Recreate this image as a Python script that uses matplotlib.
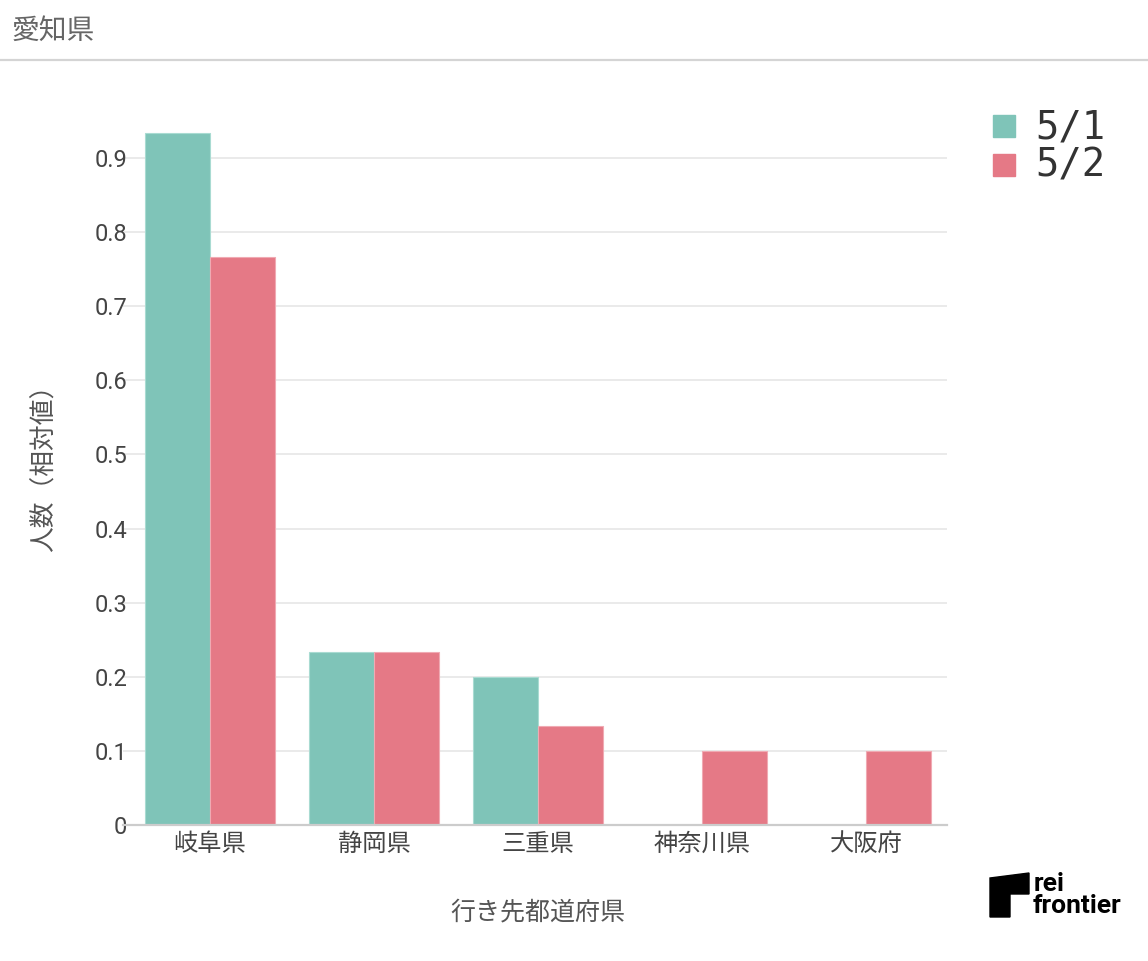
import matplotlib
matplotlib.use("Agg")
import matplotlib.pyplot as plt
import numpy as np
from matplotlib.patches import Polygon, Rectangle
from matplotlib.lines import Line2D

categories = ["岐阜県", "静岡県", "三重県", "神奈川県", "大阪府"]
series_names = ["5/1", "5/2"]
values_0501 = [0.9333, 0.2333, 0.2, 0.0, 0.0]
values_0502 = [0.7667, 0.2333, 0.1333, 0.1, 0.1]
yticks = [0, 0.1, 0.2, 0.3, 0.4, 0.5, 0.6, 0.7, 0.8, 0.9]
ytick_labels = ["0", "0.1", "0.2", "0.3", "0.4", "0.5", "0.6", "0.7", "0.8", "0.9"]
title = "愛知県"
xlabel = "行き先都道府県"
ylabel = "人数（相対値）"
colors = ["#7fc4b8", "#e57986"]

W, H = 1148, 961
fig = plt.figure(figsize=(W / 100, H / 100), dpi=100)
fam = ["Roboto", "Noto Sans CJK JP", "DejaVu Sans"]
plt.rcParams["font.family"] = fam

def fx(px):
    return px / W

def fy(py):
    return 1 - py / H

# title & separator line
fig.text(fx(12), fy(31), title, fontsize=20, color="#666666", va="center", ha="left",
         family=["Noto Sans CJK JP"])
fig.add_artist(Line2D([0, 1], [fy(60), fy(60)], color="#d4d4d4", lw=1.6,
                      transform=fig.transFigure))

ax_left, ax_right, ax_bottom, ax_top = 123, 947, 825, 99
ax = fig.add_axes([fx(ax_left), fy(ax_bottom), fx(ax_right - ax_left), (ax_bottom - ax_top) / H])

x = np.arange(len(categories))
bw = 0.396
ax.bar(x - bw / 2, values_0501, width=bw, color=colors[0], edgecolor="#a9dbd2", linewidth=0.8, zorder=3)
ax.bar(x + bw / 2, values_0502, width=bw, color=colors[1], edgecolor="#f0aab3", linewidth=0.8, zorder=3)

ax.set_xlim(-0.530, 4.494)
ax.set_ylim(0, 0.9797)
ax.set_yticks(yticks)
ax.set_yticklabels(ytick_labels)
ax.set_xticks(x)
ax.set_xticklabels(categories, family=["Noto Sans CJK JP"], fontsize=17.5)
ax.tick_params(axis="both", length=0, labelcolor="#444444")
ax.tick_params(axis="y", pad=-3, labelsize=17)
ax.tick_params(axis="x", pad=4)
for s in ["top", "right", "left"]:
    ax.spines[s].set_visible(False)
ax.spines["bottom"].set_color("#cccccc")
ax.spines["bottom"].set_linewidth(1.6)
ax.spines["bottom"].set_zorder(4)
ax.yaxis.grid(True, color="#e8e8e8", lw=1.3, zorder=0)
ax.set_axisbelow(True)
for gl in ax.yaxis.get_gridlines()[:1]:
    gl.set_visible(False)

fig.text(fx(538), fy(912), xlabel, fontsize=18, color="#555555", ha="center", va="center",
         family=["Noto Sans CJK JP"])
fig.text(fx(45), fy(462), ylabel, fontsize=18.5, color="#555555", ha="center", va="center",
         rotation=90, family=["Noto Sans CJK JP"])

# legend
for i, (name, c) in enumerate(zip(series_names, colors)):
    yc = 126 + i * 38.5
    fig.add_artist(Rectangle((fx(993), fy(yc + 11)), fx(22), 22 / H, color=c,
                             transform=fig.transFigure))
    fig.text(fx(1035), fy(yc + 1), name, fontsize=28, color="#333333", ha="left", va="center",
             family=["DejaVu Sans Mono"])

# logo
pts = [(990, 878), (1029, 873), (1029, 894), (1010, 894), (1010, 917), (990, 917)]
fig.add_artist(Polygon([(fx(a), fy(b)) for a, b in pts], closed=True, color="black",
                       transform=fig.transFigure))
fig.text(fx(1034), fy(884), "rei", fontsize=19, fontweight="bold", color="black",
         ha="left", va="center", family=["Roboto", "DejaVu Sans"])
fig.text(fx(1033), fy(906), "frontier", fontsize=19, fontweight="bold", color="black",
         ha="left", va="center", family=["Roboto", "DejaVu Sans"])

fig.savefig("out.png", dpi=100)
